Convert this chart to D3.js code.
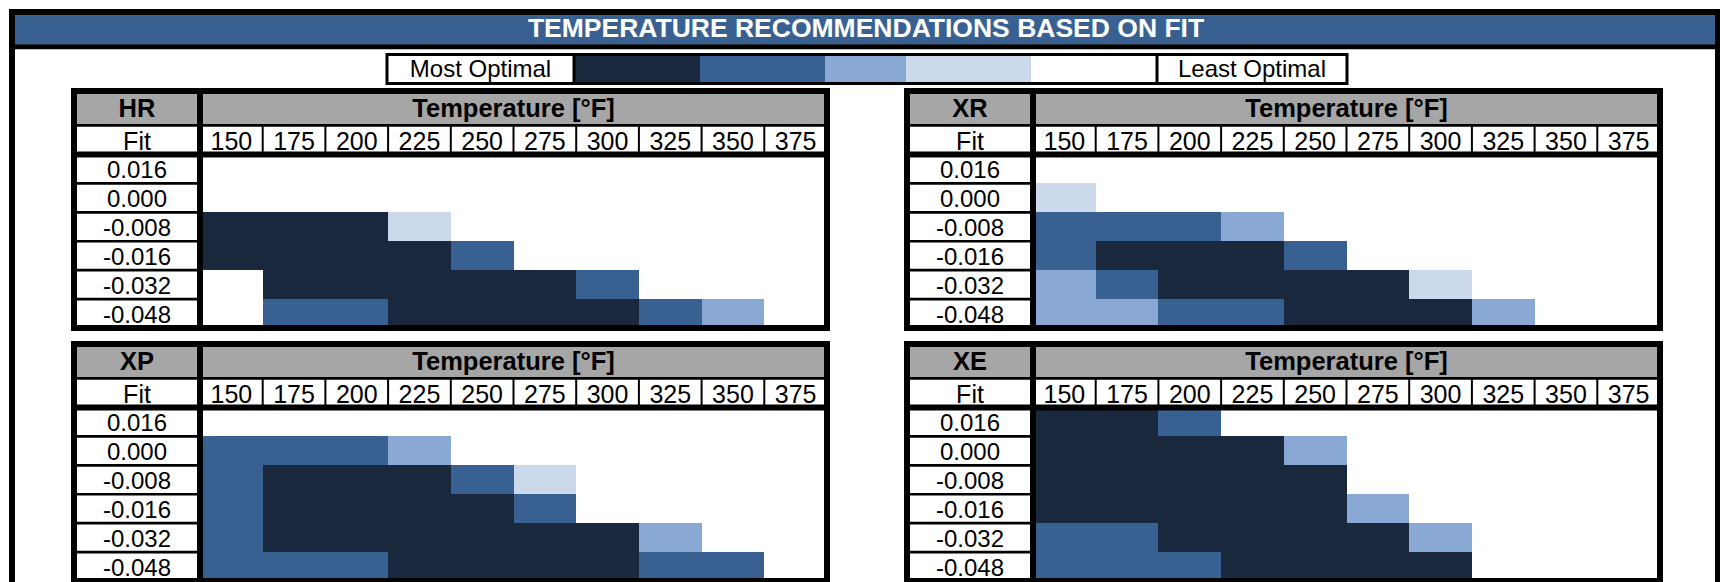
<!DOCTYPE html>
<html>
<head>
<meta charset="utf-8">
<script src="https://cdn.jsdelivr.net/npm/d3@7"></script>
<style>
  body { margin: 0; background: #fff; }
  svg { display: block; font-family: "Liberation Sans", Arial, sans-serif; }
</style>
</head>
<body>
<div id="chart"></div>
<script>
// ---- data ----
const titleText = "TEMPERATURE RECOMMENDATIONS BASED ON FIT"
const temps = [150, 175, 200, 225, 250, 275, 300, 325, 350, 375]
const fitLabels = ["0.016", "0.000", "-0.008", "-0.016", "-0.032", "-0.048"]
const panelNames = ["HR", "XR", "XP", "XE"]
const axisTitle = "Temperature [°F]"
const legendEnds = ["Most Optimal", "Least Optimal"]
const levels = [1, 2, 3, 4, 5]   // 1 = most optimal ... 5 = least optimal

// rating per fit row (top to bottom), per temperature column
const hrLevels = [
  [5, 5, 5, 5, 5, 5, 5, 5, 5, 5],
  [5, 5, 5, 5, 5, 5, 5, 5, 5, 5],
  [1, 1, 1, 4, 5, 5, 5, 5, 5, 5],
  [1, 1, 1, 1, 2, 5, 5, 5, 5, 5],
  [5, 1, 1, 1, 1, 1, 2, 5, 5, 5],
  [5, 2, 2, 1, 1, 1, 1, 2, 3, 5]
]
const xrLevels = [
  [5, 5, 5, 5, 5, 5, 5, 5, 5, 5],
  [4, 5, 5, 5, 5, 5, 5, 5, 5, 5],
  [2, 2, 2, 3, 5, 5, 5, 5, 5, 5],
  [2, 1, 1, 1, 2, 5, 5, 5, 5, 5],
  [3, 2, 1, 1, 1, 1, 4, 5, 5, 5],
  [3, 3, 2, 2, 1, 1, 1, 3, 5, 5]
]
const xpLevels = [
  [5, 5, 5, 5, 5, 5, 5, 5, 5, 5],
  [2, 2, 2, 3, 5, 5, 5, 5, 5, 5],
  [2, 1, 1, 1, 2, 4, 5, 5, 5, 5],
  [2, 1, 1, 1, 1, 2, 5, 5, 5, 5],
  [2, 1, 1, 1, 1, 1, 1, 3, 5, 5],
  [2, 2, 2, 1, 1, 1, 1, 2, 2, 5]
]
const xeLevels = [
  [1, 1, 2, 5, 5, 5, 5, 5, 5, 5],
  [1, 1, 1, 1, 3, 5, 5, 5, 5, 5],
  [1, 1, 1, 1, 1, 5, 5, 5, 5, 5],
  [1, 1, 1, 1, 1, 3, 5, 5, 5, 5],
  [2, 2, 1, 1, 1, 1, 3, 5, 5, 5],
  [2, 2, 2, 1, 1, 1, 1, 5, 5, 5]
]

// ---- layout ----
const width = 1720
const height = 582
const blue = "#386192"
const gray = "#a6a6a6"

const color = d3.scaleOrdinal()
  .domain(levels)
  .range(["#1a283d", "#386192", "#89a8d4", "#cbd9ea", "#ffffff"])

const svg = d3.select("#chart")
  .append("svg")
  .attr("width", width)
  .attr("height", height)

svg.append("rect").attr("width", width).attr("height", height).attr("fill", "#fff")

// outer frame + title banner
svg.append("rect")
  .attr("x", 15).attr("y", 15).attr("width", 1700).attr("height", 29.5)
  .attr("fill", blue)
svg.append("line")
  .attr("x1", 12).attr("x2", 1718).attr("y1", 46.8).attr("y2", 46.8)
  .attr("stroke", "#000").attr("stroke-width", 5)
svg.append("rect")
  .attr("x", 12).attr("y", 12).attr("width", 1706).attr("height", 640)
  .attr("fill", "none").attr("stroke", "#000").attr("stroke-width", 6)
svg.append("text")
  .attr("x", 866).attr("y", 36.7)
  .attr("text-anchor", "middle")
  .attr("font-weight", "bold").attr("font-size", 26.5)
  .attr("fill", "#fff")
  .text(titleText)

// legend row
const legendEdges = [387, 574, 700, 825, 906, 1031, 1157, 1347]
const legendTop = 54.5, legendH = 29
const lg = svg.append("g")
lg.selectAll("rect.swatch")
  .data(levels)
  .join("rect")
  .attr("class", "swatch")
  .attr("x", (d, i) => legendEdges[i + 1])
  .attr("y", legendTop)
  .attr("width", (d, i) => legendEdges[i + 2] - legendEdges[i + 1])
  .attr("height", legendH)
  .attr("fill", d => color(d))
  .attr("shape-rendering", "crispEdges")
lg.append("rect")
  .attr("x", legendEdges[0]).attr("y", legendTop)
  .attr("width", legendEdges[7] - legendEdges[0]).attr("height", legendH)
  .attr("fill", "none").attr("stroke", "#000").attr("stroke-width", 3)
;[legendEdges[1], legendEdges[6]].forEach(x => {
  lg.append("line")
    .attr("x1", x).attr("x2", x).attr("y1", legendTop).attr("y2", legendTop + legendH)
    .attr("stroke", "#000").attr("stroke-width", 3)
})
lg.selectAll("text")
  .data(legendEnds)
  .join("text")
  .attr("x", (d, i) => i === 0 ? (legendEdges[0] + legendEdges[1]) / 2 : (legendEdges[6] + legendEdges[7]) / 2)
  .attr("y", 77)
  .attr("text-anchor", "middle")
  .attr("font-size", 24)
  .text(d => d)

// panels
const labelW = 126
const dataW = 627
const panelW = labelW + dataW
const headerTop = 3, headerBot = 33
const fitLine = 34.3
const dataTop = 63.5, dataBot = 237

const panels = [
  {name: panelNames[0], levels: hrLevels, x: 74, y: 91},
  {name: panelNames[1], levels: xrLevels, x: 907, y: 91},
  {name: panelNames[2], levels: xpLevels, x: 74, y: 344},
  {name: panelNames[3], levels: xeLevels, x: 907, y: 344}
]

const xScale = d3.scaleBand().domain(temps).range([labelW, panelW])
const yScale = d3.scaleBand().domain(fitLabels).range([dataTop, dataBot])

panels.forEach(p => {
  const g = svg.append("g").attr("transform", `translate(${p.x}, ${p.y})`)

  g.append("rect").attr("width", panelW).attr("height", dataBot).attr("fill", "#fff")

  // header
  g.append("rect")
    .attr("x", 0).attr("y", headerTop).attr("width", panelW).attr("height", headerBot - headerTop)
    .attr("fill", gray)

  // cells
  const cells = []
  p.levels.forEach((row, ri) => row.forEach((lv, ci) => {
    cells.push({fit: fitLabels[ri], temp: temps[ci], level: lv})
  }))
  g.selectAll("rect.cell")
    .data(cells)
    .join("rect")
    .attr("class", "cell")
    .attr("x", d => Math.round(xScale(d.temp)))
    .attr("y", d => Math.round(yScale(d.fit)))
    .attr("width", d => Math.round(xScale(d.temp) + xScale.bandwidth()) - Math.round(xScale(d.temp)))
    .attr("height", d => Math.round(yScale(d.fit) + yScale.bandwidth()) - Math.round(yScale(d.fit)))
    .attr("fill", d => color(d.level))
    .attr("shape-rendering", "crispEdges")

  // label column row separators
  g.selectAll("line.rowsep")
    .data(fitLabels.slice(1))
    .join("line")
    .attr("class", "rowsep")
    .attr("x1", 0).attr("x2", labelW)
    .attr("y1", d => yScale(d)).attr("y2", d => yScale(d))
    .attr("stroke", "#000").attr("stroke-width", 2.7)

  // fit row column separators
  g.selectAll("line.colsep")
    .data(temps.slice(1))
    .join("line")
    .attr("class", "colsep")
    .attr("x1", d => xScale(d)).attr("x2", d => xScale(d))
    .attr("y1", fitLine).attr("y2", dataTop)
    .attr("stroke", "#000").attr("stroke-width", 2)

  g.append("line")
    .attr("x1", 0).attr("x2", panelW).attr("y1", fitLine).attr("y2", fitLine)
    .attr("stroke", "#000").attr("stroke-width", 2.7)
  g.append("line")
    .attr("x1", 0).attr("x2", panelW).attr("y1", dataTop).attr("y2", dataTop)
    .attr("stroke", "#000").attr("stroke-width", 6)
  g.append("line")
    .attr("x1", labelW).attr("x2", labelW).attr("y1", 0).attr("y2", dataBot)
    .attr("stroke", "#000").attr("stroke-width", 6)
  g.append("rect")
    .attr("width", panelW).attr("height", dataBot)
    .attr("fill", "none").attr("stroke", "#000").attr("stroke-width", 6)

  // texts
  g.append("text")
    .attr("x", labelW / 2).attr("y", 25.7)
    .attr("text-anchor", "middle").attr("font-weight", "bold").attr("font-size", 25.5)
    .text(p.name)
  g.append("text")
    .attr("x", labelW + dataW / 2).attr("y", 25.7)
    .attr("text-anchor", "middle").attr("font-weight", "bold").attr("font-size", 25.5)
    .text(axisTitle)
  g.append("text")
    .attr("x", labelW / 2).attr("y", 59)
    .attr("text-anchor", "middle").attr("font-size", 25)
    .text("Fit")
  g.selectAll("text.temp")
    .data(temps)
    .join("text")
    .attr("class", "temp")
    .attr("x", d => xScale(d) + xScale.bandwidth() / 2)
    .attr("y", 59)
    .attr("text-anchor", "middle").attr("font-size", 25)
    .text(d => d)
  g.selectAll("text.fit")
    .data(fitLabels)
    .join("text")
    .attr("class", "fit")
    .attr("x", labelW / 2)
    .attr("y", d => yScale(d) + yScale.bandwidth() - 5.5)
    .attr("text-anchor", "middle").attr("font-size", 24)
    .text(d => d)
})
</script>
</body>
</html>
